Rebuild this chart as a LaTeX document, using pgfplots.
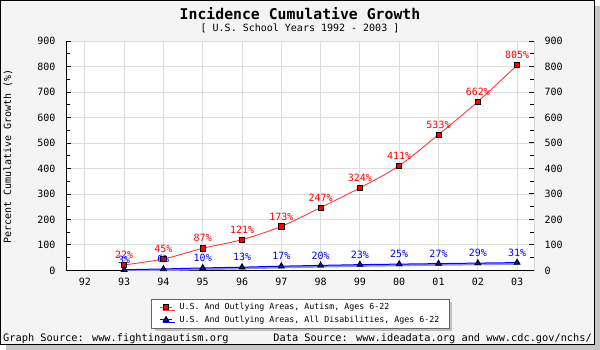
\documentclass[border=0pt]{standalone}
\usepackage{fontspec}
\setmainfont{DejaVu Sans Mono}
\usepackage{pgfplots}
\pgfplotsset{compat=1.18}
\usetikzlibrary{shadows}
\definecolor{bgc}{HTML}{F4F4F4}
\definecolor{gridc}{HTML}{DDDDDD}
\definecolor{redline}{HTML}{FF3A3A}
\definecolor{redlab}{HTML}{FF0000}
\definecolor{bluelab}{HTML}{0000FF}
\definecolor{blueshade}{HTML}{8C8CFF}
\definecolor{bluemark}{HTML}{1010A0}
\pgfplotstableread{
x y
1 22
2 45
3 87
4 121
5 173
6 247
7 324
8 411
9 533
10 662
11 805
}\autism
\pgfplotstableread{
x y
1 3
2 6
3 10
4 13
5 17
6 20
7 23
8 25
9 27
10 29
11 31
}\alldis
\begin{document}
\begin{tikzpicture}
\useasboundingbox (0pt,0pt) rectangle (600pt,350pt);
\fill[gray!45] (6pt,0pt) rectangle (600pt,344pt);
\filldraw[fill=bgc, draw=black, line width=1pt] (0.5pt,5.5pt) rectangle (594.5pt,349.5pt);
\pgfplotsset{
  myaxis/.style={
    at={(66pt,79.5pt)}, anchor=south west, width=468pt, height=229.5pt, scale only axis,
    xmin=-0.48, xmax=11.43, ymin=0, ymax=900,
    ytick={0,100,...,900}, minor ytick={50,150,...,850},
    tick align=inside,
    major tick length=5pt, minor tick length=4pt,
    every tick/.style={black, line width=1pt},
    axis line style={draw=none},
    tick label style={font=\fontsize{10}{12}\selectfont},
    /pgf/number format/assume math mode=true,
  }
}
\begin{axis}[myaxis,
  axis background/.style={fill=white},
  xtick={0,...,11}, xticklabels={92,93,94,95,96,97,98,99,00,01,02,03},
  ytick pos=left,
  major x tick style={draw=none},
  grid=major, major grid style={gridc, line width=1pt},
  yticklabel style={xshift=-7pt},
  xticklabel style={yshift=-4pt},
  nodes near coords={\pgfmathprintnumber{\pgfplotspointmeta}\%},
  every node near coord/.append style={anchor=center, yshift=10pt, font=\fontsize{10}{12}\selectfont},
  legend style={at={(0.501,-0.187)}, anchor=center, draw=gray!80!black, fill=white,
    font=\fontsize{8.3}{10}\selectfont, drop shadow={shadow xshift=3pt, shadow yshift=-3pt, fill=gray!50, opacity=1},
    inner xsep=8pt, inner ysep=2pt, row sep=1pt,
    /tikz/every odd column/.append style={column sep=5pt}},
  legend cell align=left,
  legend image code/.code={\draw[mark repeat=2,mark phase=2] plot coordinates {(0pt,0pt)(6pt,0pt)(12pt,0pt)};},
]
\draw[black, line width=1pt] (rel axis cs:0,1) -- (rel axis cs:0,0) -- (rel axis cs:1,0) -- (rel axis cs:1,1);
\addplot[redline, line width=0.9pt, smooth, mark=square*, mark size=2.6pt,
  mark options={fill=redlab, draw=black, line width=0.8pt},
  every node near coord/.append style={text=redlab}] table {\autism};
\addlegendentry{U.S. And Outlying Areas, Autism, Ages 6-22}
\addplot[blueshade, line width=2pt, yshift=-1.2pt, forget plot, nodes near coords={}] table {\alldis};
\addplot[bluelab, line width=1pt, mark=triangle*, mark size=3.4pt,
  mark options={fill=bluemark, draw=black, line width=0.8pt},
  every node near coord/.append style={text=bluelab}] table {\alldis};
\addlegendentry{U.S. And Outlying Areas, All Disabilities, Ages 6-22}
\end{axis}
\begin{axis}[myaxis,
  hide x axis,
  ytick pos=right, yticklabel pos=right,
  yticklabel style={xshift=7pt},
]
\addplot[draw=none] coordinates {(0,0)};
\end{axis}
\node[font=\fontsize{14.8}{16}\selectfont\bfseries] at (300pt,336.5pt) {Incidence Cumulative Growth};
\node[font=\fontsize{10}{12}\selectfont] at (300pt,321.5pt) {[ U.S. School Years 1992 - 2003 ]};
\node[rotate=90, font=\fontsize{10}{12}\selectfont] at (8pt,193.5pt) {Percent Cumulative Growth (\%)};
\node[anchor=west, font=\fontsize{10.3}{12}\selectfont, inner sep=0pt] at (3pt,11.5pt) {Graph Source: www.fightingautism.org};
\node[anchor=east, font=\fontsize{10.3}{12}\selectfont, inner sep=0pt] at (592pt,11.5pt) {Data Source: www.ideadata.org and www.cdc.gov/nchs/};
\end{tikzpicture}
\end{document}
